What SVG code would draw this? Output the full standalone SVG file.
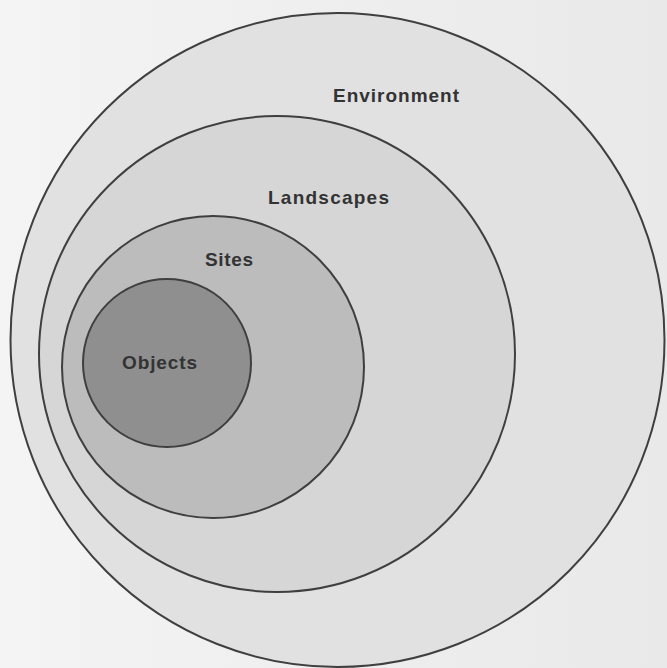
<svg xmlns="http://www.w3.org/2000/svg" width="667" height="668" viewBox="0 0 667 668">
<style>
.ring{stroke:#3f3f3f;stroke-width:2}
.lbl{font-family:"Liberation Sans",Arial,sans-serif;font-weight:bold;font-size:19px;fill:#333333}
</style>
<defs>
<linearGradient id="bg" x1="0" y1="0" x2="1" y2="0">
<stop offset="0" stop-color="#f4f4f4"/>
<stop offset="1" stop-color="#e9e9e9"/>
</linearGradient>
</defs>
<rect width="667" height="668" fill="url(#bg)"/>
<g id="environment">
<circle class="ring" cx="337.5" cy="340" r="327" fill="#e1e1e1"/>
<text class="lbl" x="333" y="102" textLength="126" lengthAdjust="spacing">Environment</text>
</g>
<g id="landscapes">
<circle class="ring" cx="277" cy="354" r="238" fill="#d6d6d6"/>
<text class="lbl" x="268" y="204" textLength="121" lengthAdjust="spacing">Landscapes</text>
</g>
<g id="sites">
<circle class="ring" cx="213" cy="367" r="151" fill="#bcbcbc"/>
<text class="lbl" x="205" y="266" textLength="48" lengthAdjust="spacing">Sites</text>
</g>
<g id="objects">
<circle class="ring" cx="167" cy="363" r="84" fill="#8f8f8f"/>
<text class="lbl" x="122" y="369" textLength="75" lengthAdjust="spacing">Objects</text>
</g>
<g id="connectors"/>
</svg>
